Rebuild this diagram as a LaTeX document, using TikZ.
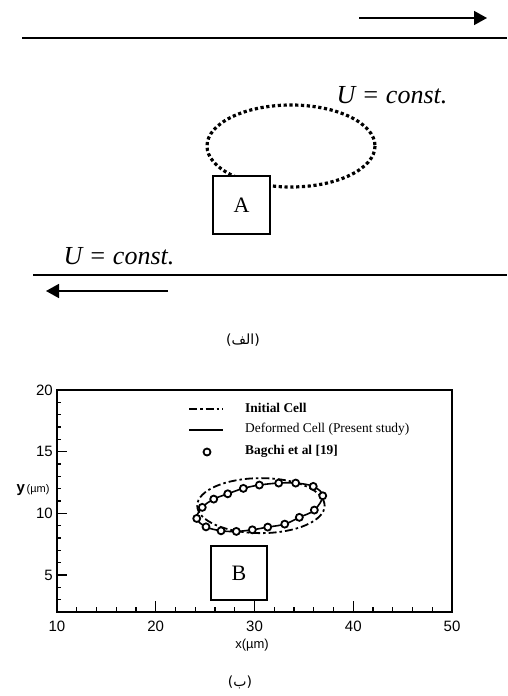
\documentclass[tikz,border=0pt]{standalone}
\usepackage{fontspec}
\setmainfont{Liberation Serif}
\newfontfamily\plotfont{Liberation Sans}
\newfontfamily\arabicfont[Script=Arabic]{DejaVu Sans}
\newfontfamily\parenfont{DejaVu Sans}
\TeXXeTstate=1
\usetikzlibrary{positioning, arrows.meta, calc}

\begin{document}
\begin{tikzpicture}[
  x=1pt, y=-1pt,
  wall/.style={line width=2pt},
  flow/.style={line width=1.6pt, -{Triangle[length=13pt, width=14pt]}},
  label/.style={font=\fontsize{26}{28}\selectfont\itshape, inner sep=0pt},
  boxlabel/.style={draw, fill=white, line width=1.2pt, font=\fontsize{22}{24}\selectfont,
                   minimum width=57pt, minimum height=58pt, inner sep=0pt},
  cellpath/.style={line width=3.2pt, dash pattern=on 3.2pt off 2.6pt},
  axisframe/.style={line width=2pt},
  tick/.style={line width=1.3pt},
  ticklabel/.style={font=\plotfont\fontsize{15}{16}\selectfont, inner sep=0pt},
  legtext/.style={font=\fontsize{13.4}{14}\selectfont, anchor=west, inner sep=0pt},
  initial/.style={line width=1.8pt, dash pattern=on 8pt off 3pt on 2.5pt off 3pt},
  deformed/.style={line width=1.6pt},
  marker/.style={draw, circle, line width=1.8pt, minimum size=7pt, inner sep=0pt},
  caption/.style={font=\fontsize{14}{16}\selectfont, inner sep=0pt},
]
\useasboundingbox (0,0) rectangle (507,696);

% --- Couette flow sketch ---
\coordinate (topL) at (22,38);
\coordinate (topR) at (507,38);
\coordinate (botL) at (33,275);
\coordinate (botR) at (507,275);
\draw[wall] (topL) -- (topR);
\draw[wall] (botL) -- (botR);

\coordinate (toparrowA) at (359,18);
\coordinate (toparrowB) at (487,18);
\coordinate (botarrowA) at (168,291);
\coordinate (botarrowB) at (46,291);
\draw[flow] (toparrowA) -- (toparrowB);
\draw[flow] (botarrowA) -- (botarrowB);

\node[label] (utop) at (392,95) {U = const.};
\node[label] (ubot) at (119,256) {U = const.};

\coordinate (cellA) at (291,146);
\draw[cellpath] (cellA) ellipse [x radius=84, y radius=41];
\node[boxlabel] (boxA) at (241.5,205) {A};

\node[caption] (capA) at (243,340) {{\parenfont(}{\arabicfont\beginR الف\endR}{\parenfont)}};

% --- Validation plot ---
\begin{scope}[shift={(-41.75,636.7)}, x=9.875pt, y=12.33pt]
  % cells
  \draw[initial] (30.65,10.63) ellipse [x radius=6.45, y radius=2.23];
  \draw[deformed] plot[smooth cycle, tension=0.6] coordinates {
    (24.15,9.59) (24.71,10.49) (25.87,11.16) (27.29,11.59) (28.87,12.03)
    (30.49,12.30) (32.45,12.46) (34.17,12.46) (35.95,12.19) (36.91,11.43)
    (36.06,10.27) (34.54,9.68) (33.06,9.13) (31.34,8.89) (29.78,8.67)
    (28.16,8.54) (26.61,8.59) (25.09,8.91)};
  \foreach \px/\py in {24.15/9.59, 24.71/10.49, 25.87/11.16, 27.29/11.59, 28.87/12.03,
    30.49/12.30, 32.45/12.46, 34.17/12.46, 35.95/12.19, 36.91/11.43,
    36.06/10.27, 34.54/9.68, 33.06/9.13, 31.34/8.89, 29.78/8.67,
    28.16/8.54, 26.61/8.59, 25.09/8.91}
    \node[marker, fill=white] at (\px,\py) {};

  % ticks
  \foreach \yy in {3,...,19}
    \draw[tick] (10,\yy) -- ++(4pt,0);
  \foreach \yy in {5,10,15}
    \draw[tick] (10,\yy) -- ++(10pt,0);
  \foreach \xx in {12,14,...,48}
    \draw[tick] (\xx,2) -- ++(0,5pt);
  \foreach \xx in {20,30,40}
    \draw[tick] (\xx,2) -- ++(0,11pt);

  % frame
  \coordinate (plotSW) at (10,2);
  \coordinate (plotNE) at (50,20);
  \draw[axisframe] (plotSW) rectangle (plotNE);

  % tick labels
  \foreach \yy in {5,10,15,20}
    \node[ticklabel, anchor=east] at ($(10,\yy)+(-4pt,0)$) {\yy};
  \foreach \xx in {10,20,...,50}
    \node[ticklabel, anchor=north] at ($(\xx,2)+(0,-9pt)$) {\xx};
\end{scope}

\node[font=\plotfont, inner sep=0pt] (ylab) at (33,490)
  {{\fontsize{15}{16}\selectfont\bfseries y}\,{\fontsize{11}{12}\selectfont(\textmu m)}};
\node[font=\plotfont\fontsize{13}{14}\selectfont, inner sep=0pt] (xlab) at (252,645) {x(\textmu m)};

% legend
\coordinate (legA) at (189,409);
\coordinate (legB) at (223,409);
\coordinate (legC) at (189,430);
\coordinate (legD) at (223,430);
\draw[initial] (legA) -- (legB);
\draw[deformed] (legC) -- (legD);
\node[marker] (legmark) at (207,452) {};
\node[legtext, font=\fontsize{13.4}{14}\selectfont\bfseries] (leg1) at (245,408) {Initial Cell};
\node[legtext] (leg2) at (245,429) {Deformed Cell (Present study)};
\node[legtext, font=\fontsize{13.4}{14}\selectfont\bfseries] (leg3) at (245,451) {Bagchi et al [19]};

\node[boxlabel, minimum width=56pt, minimum height=54pt] (boxB) at (239,573) {B};

\node[caption] (capB) at (240,682) {{\parenfont(}{\arabicfont\beginR ب\endR}{\parenfont)}};
\end{tikzpicture}
\end{document}
